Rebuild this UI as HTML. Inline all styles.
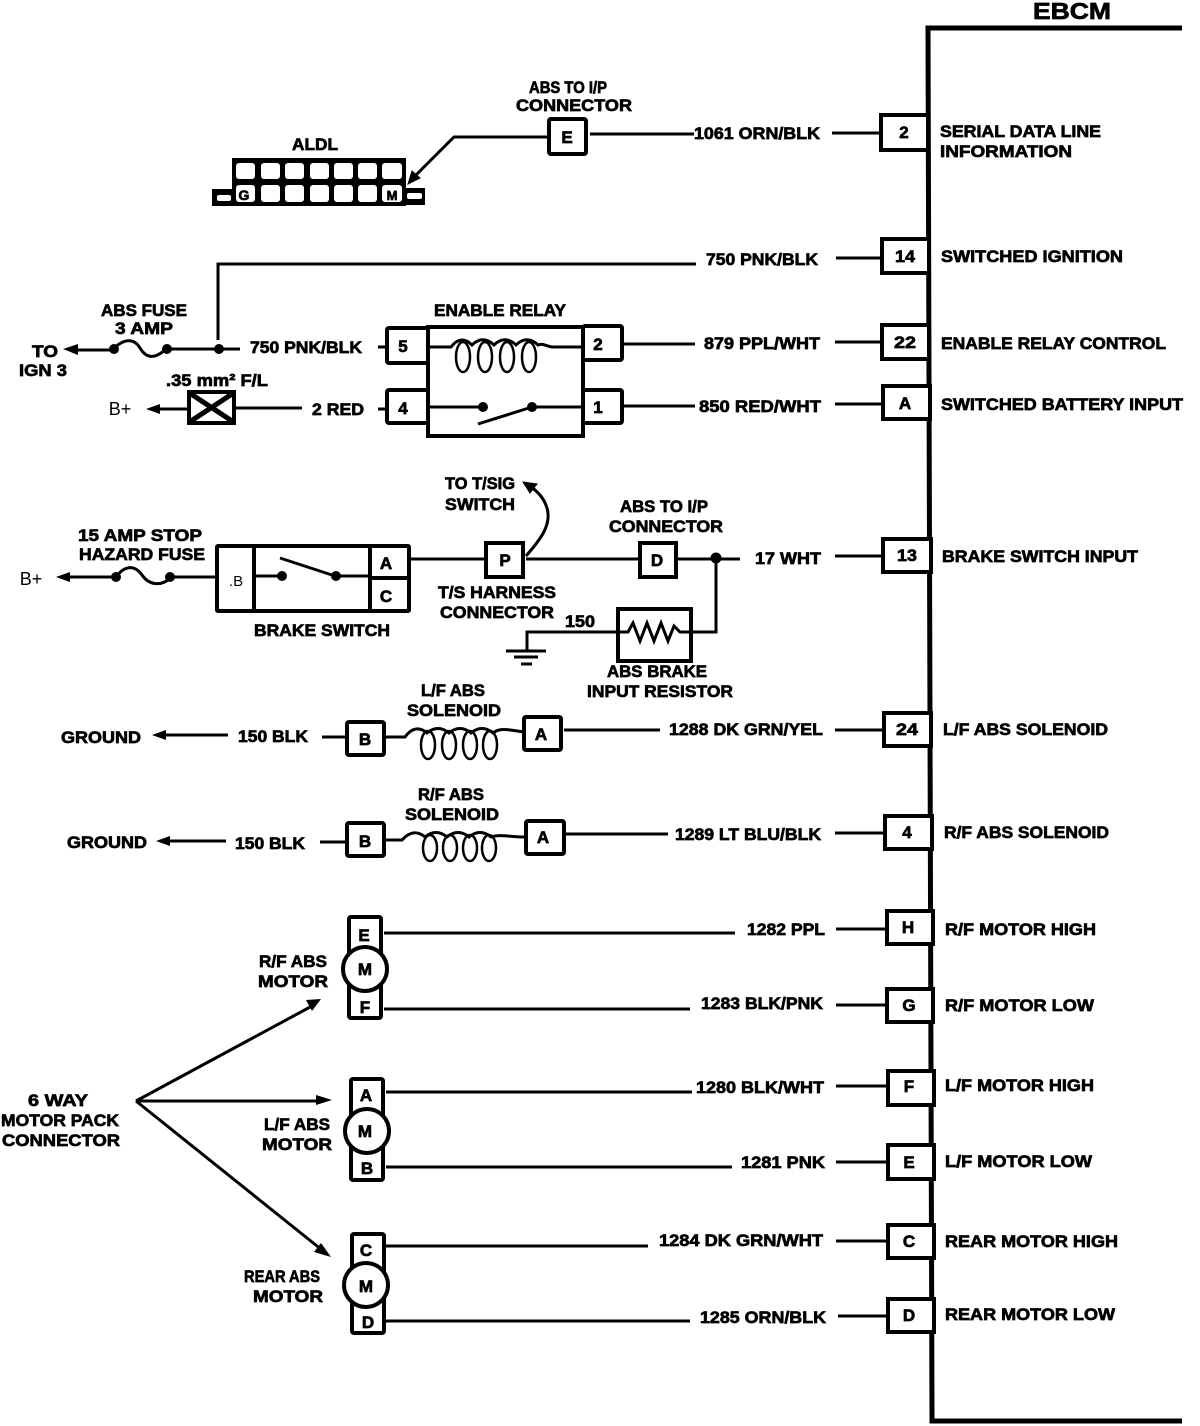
<!DOCTYPE html>
<html><head><meta charset="utf-8"><style>
html,body{margin:0;padding:0;background:#fff}
svg{display:block}
text{font-family:"Liberation Sans",sans-serif;font-weight:bold;font-size:17px;fill:#000;stroke:#000;stroke-width:.7;text-anchor:middle}
.l{text-anchor:start}
.n{stroke:none;font-weight:normal}
.w{fill:none;stroke:#000;stroke-width:3}
.b{fill:#fff;stroke:#000;stroke-width:4}
.t{fill:none;stroke:#000;stroke-width:5}
</style></head><body>
<svg width="1200" height="1426" viewBox="0 0 1200 1426" xmlns="http://www.w3.org/2000/svg">
<!-- EBCM -->
<path d="M1182 28H928L932 1421H1182" fill="none" stroke="#000" stroke-width="5"/>
<text x="1072" y="19" style="font-size:23px" textLength="78" lengthAdjust="spacingAndGlyphs">EBCM</text>

<!-- EBCM pin wires -->
<g class="w">
<path d="M590 134H694M832 133H880"/>
<path d="M218 340V264H696M836 258H881"/>
<path d="M622 344H695M835 342H881"/>
<path d="M622 406H695M835 404H882"/>
<path d="M835 556H882"/>
<path d="M564 730H660M835 730H883"/>
<path d="M566 834H668M835 833H884"/>
<path d="M384 933H735M836 929H886"/>
<path d="M384 1009H690M836 1005H886"/>
<path d="M386 1092H692M836 1086H887"/>
<path d="M386 1167H732M836 1162H887"/>
<path d="M386 1246H648M836 1241H887"/>
<path d="M386 1321H690M838 1316H887"/>
</g>
<!-- EBCM pin boxes -->
<g class="b">
<rect x="881" y="115" width="47" height="35"/>
<rect x="882" y="239" width="47" height="34"/>
<rect x="882" y="325" width="47" height="34"/>
<rect x="883" y="386" width="47" height="33"/>
<rect x="883" y="539" width="48" height="33"/>
<rect x="884" y="713" width="47" height="33"/>
<rect x="885" y="816" width="47" height="33"/>
<rect x="887" y="911" width="46" height="33"/>
<rect x="887" y="989" width="46" height="33"/>
<rect x="888" y="1071" width="46" height="34"/>
<rect x="888" y="1145" width="46" height="34"/>
<rect x="888" y="1225" width="46" height="33"/>
<rect x="888" y="1299" width="46" height="33"/>
</g>
<g>
<text x="904" y="138">2</text><text x="905" y="262" textLength="20" lengthAdjust="spacingAndGlyphs">14</text>
<text x="905" y="348" textLength="22" lengthAdjust="spacingAndGlyphs">22</text><text x="905" y="409">A</text>
<text x="907" y="561" textLength="20" lengthAdjust="spacingAndGlyphs">13</text><text x="907" y="735" textLength="22" lengthAdjust="spacingAndGlyphs">24</text>
<text x="907" y="838">4</text><text x="908" y="933">H</text><text x="909" y="1011">G</text><text x="909" y="1092">F</text>
<text x="909" y="1168">E</text><text x="909" y="1247">C</text><text x="909" y="1321">D</text>
</g>
<!-- pin labels -->
<g>
<text class="l" x="940" y="137" textLength="161" lengthAdjust="spacingAndGlyphs">SERIAL DATA LINE</text>
<text class="l" x="940" y="157" textLength="132" lengthAdjust="spacingAndGlyphs">INFORMATION</text>
<text class="l" x="941" y="262" textLength="182" lengthAdjust="spacingAndGlyphs">SWITCHED IGNITION</text>
<text class="l" x="941" y="349" textLength="225" lengthAdjust="spacingAndGlyphs">ENABLE RELAY CONTROL</text>
<text class="l" x="941" y="410" textLength="242" lengthAdjust="spacingAndGlyphs">SWITCHED BATTERY INPUT</text>
<text class="l" x="942" y="562" textLength="196" lengthAdjust="spacingAndGlyphs">BRAKE SWITCH INPUT</text>
<text class="l" x="943" y="735" textLength="165" lengthAdjust="spacingAndGlyphs">L/F ABS SOLENOID</text>
<text class="l" x="944" y="838" textLength="165" lengthAdjust="spacingAndGlyphs">R/F ABS SOLENOID</text>
<text class="l" x="945" y="935" textLength="151" lengthAdjust="spacingAndGlyphs">R/F MOTOR HIGH</text>
<text class="l" x="945" y="1011" textLength="149" lengthAdjust="spacingAndGlyphs">R/F MOTOR LOW</text>
<text class="l" x="945" y="1091" textLength="149" lengthAdjust="spacingAndGlyphs">L/F MOTOR HIGH</text>
<text class="l" x="945" y="1167" textLength="147" lengthAdjust="spacingAndGlyphs">L/F MOTOR LOW</text>
<text class="l" x="945" y="1247" textLength="173" lengthAdjust="spacingAndGlyphs">REAR MOTOR HIGH</text>
<text class="l" x="945" y="1320" textLength="170" lengthAdjust="spacingAndGlyphs">REAR MOTOR LOW</text>
</g>
<!-- wire labels -->
<g>
<text x="757" y="139" textLength="126" lengthAdjust="spacingAndGlyphs">1061 ORN/BLK</text>
<text x="762" y="265" textLength="112" lengthAdjust="spacingAndGlyphs">750 PNK/BLK</text>
<text x="762" y="349" textLength="116" lengthAdjust="spacingAndGlyphs">879 PPL/WHT</text>
<text x="760" y="412" textLength="122" lengthAdjust="spacingAndGlyphs">850 RED/WHT</text>
<text x="788" y="564" textLength="66" lengthAdjust="spacingAndGlyphs">17 WHT</text>
<text x="746" y="735" textLength="154" lengthAdjust="spacingAndGlyphs">1288 DK GRN/YEL</text>
<text x="748" y="840" textLength="146" lengthAdjust="spacingAndGlyphs">1289 LT BLU/BLK</text>
<text x="786" y="935" textLength="78" lengthAdjust="spacingAndGlyphs">1282 PPL</text>
<text x="762" y="1009" textLength="122" lengthAdjust="spacingAndGlyphs">1283 BLK/PNK</text>
<text x="760" y="1093" textLength="128" lengthAdjust="spacingAndGlyphs">1280 BLK/WHT</text>
<text x="783" y="1168" textLength="84" lengthAdjust="spacingAndGlyphs">1281 PNK</text>
<text x="741" y="1246" textLength="164" lengthAdjust="spacingAndGlyphs">1284 DK GRN/WHT</text>
<text x="763" y="1323" textLength="126" lengthAdjust="spacingAndGlyphs">1285 ORN/BLK</text>
</g>

<!-- ALDL -->
<text x="315" y="150" textLength="46" lengthAdjust="spacingAndGlyphs">ALDL</text>
<path d="M232 158H406V206H212V189H232Z" fill="#000"/>
<rect x="406" y="188" width="19" height="17" fill="#000"/>
<g fill="#fff">
<rect x="217" y="195" width="14" height="6" rx="2"/><rect x="407" y="193" width="15" height="6" rx="2"/>
<rect x="236" y="163" width="19" height="16" rx="3"/><rect x="261" y="163" width="19" height="16" rx="3"/><rect x="285" y="163" width="19" height="16" rx="3"/><rect x="310" y="163" width="19" height="16" rx="3"/><rect x="334" y="163" width="19" height="16" rx="3"/><rect x="358" y="163" width="19" height="16" rx="3"/><rect x="382" y="163" width="20" height="16" rx="3"/>
<rect x="236" y="185" width="19" height="17" rx="3"/><rect x="261" y="185" width="19" height="17" rx="3"/><rect x="285" y="185" width="19" height="17" rx="3"/><rect x="310" y="185" width="19" height="17" rx="3"/><rect x="334" y="185" width="19" height="17" rx="3"/><rect x="358" y="185" width="19" height="17" rx="3"/><rect x="382" y="185" width="20" height="17" rx="3"/>
</g>
<text x="244" y="200" style="font-size:14px">G</text><text x="392" y="200" style="font-size:13px">M</text>
<path class="w" d="M550 137H454L415 176"/>
<path d="M408 184L412 171L420 178Z" stroke="#000"/>
<rect class="b" x="549" y="119" width="37" height="35" rx="2"/>
<text x="567" y="143">E</text>
<text x="568" y="93" textLength="78" lengthAdjust="spacingAndGlyphs">ABS TO I/P</text>
<text x="574" y="111" textLength="116" lengthAdjust="spacingAndGlyphs">CONNECTOR</text>

<!-- Fuse line row -->
<text x="45" y="357" textLength="26" lengthAdjust="spacingAndGlyphs">TO</text>
<text x="43" y="376" textLength="48" lengthAdjust="spacingAndGlyphs">IGN 3</text>
<path class="w" d="M74 350H112M166 349H218M218 349H240"/>
<path d="M63 349L78 344V355Z"/>
<path d="M112 350C124 338 134 338 140 348C146 358 154 360 166 349" class="w"/>
<circle cx="114" cy="349" r="5"/><circle cx="167" cy="349" r="5"/><circle cx="219" cy="349" r="5"/>
<text x="144" y="316" textLength="86" lengthAdjust="spacingAndGlyphs">ABS FUSE</text>
<text x="144" y="334" textLength="58" lengthAdjust="spacingAndGlyphs">3 AMP</text>
<text x="306" y="353" textLength="112" lengthAdjust="spacingAndGlyphs">750 PNK/BLK</text>
<path class="w" d="M378 347H388M378 409H388M234 408H302"/>
<text x="217" y="386" textLength="102" lengthAdjust="spacingAndGlyphs">.35 mm² F/L</text>
<text class="n" x="120" y="415" style="font-size:18px">B+</text>
<path class="w" d="M152 409H189"/>
<path d="M146 409L160 404V414Z"/>
<rect class="b" x="189" y="392" width="45" height="31"/>
<path d="M191 394L232 421M232 394L191 421" stroke="#000" stroke-width="5"/>
<text x="338" y="415" textLength="52" lengthAdjust="spacingAndGlyphs">2 RED</text>

<!-- Relay -->
<text x="500" y="316" textLength="132" lengthAdjust="spacingAndGlyphs">ENABLE RELAY</text>
<rect class="b" x="428" y="327" width="155" height="109"/>
<rect class="b" x="387" y="328" width="41" height="35" rx="2"/>
<rect class="b" x="387" y="390" width="41" height="33" rx="2"/>
<rect class="b" x="583" y="326" width="39" height="34" rx="2"/>
<rect class="b" x="583" y="390" width="39" height="33" rx="2"/>
<text x="403" y="352">5</text><text x="403" y="414">4</text><text x="598" y="350">2</text><text x="598" y="413">1</text>
<path class="w" d="M430 347H451C458 338 465 338 472 345 479 338 487 338 494 345 501 338 509 338 516 345 523 338 531 338 538 345 542 343 546 346 552 347H581"/>
<g fill="none" stroke="#000" stroke-width="2.5"><ellipse cx="463" cy="357" rx="7" ry="15"/><ellipse cx="485" cy="357" rx="7" ry="15"/><ellipse cx="507" cy="357" rx="7" ry="15"/><ellipse cx="529" cy="357" rx="7" ry="15"/></g>
<path class="w" d="M430 407H483M532 407H581M478 424L532 407"/>
<circle cx="483" cy="407" r="5"/><circle cx="532" cy="407" r="5"/>

<!-- Brake switch row -->
<text x="140" y="541" textLength="124" lengthAdjust="spacingAndGlyphs">15 AMP STOP</text>
<text x="142" y="560" textLength="126" lengthAdjust="spacingAndGlyphs">HAZARD FUSE</text>
<text class="n" x="31" y="585" style="font-size:18px">B+</text>
<path class="w" d="M66 577H114M172 577H216"/>
<path d="M56 577L70 572V582Z"/>
<path class="w" d="M116 577C124 566 134 564 142 575 148 584 160 588 172 577"/>
<circle cx="116" cy="577" r="5"/><circle cx="170" cy="577" r="5"/>
<rect class="b" x="217" y="546" width="192" height="65" rx="1"/>
<path class="t" style="stroke-width:4" d="M254 546V611M370 546V611M370 578H409"/>
<text x="236" y="586" style="font-size:15px" class="n">.B</text>
<text x="386" y="569">A</text><text x="386" y="602">C</text>
<path class="w" d="M254 576H282M336 576H370M280 558L335 576"/>
<circle cx="282" cy="576" r="5"/><circle cx="336" cy="576" r="5"/>
<text x="322" y="636" textLength="136" lengthAdjust="spacingAndGlyphs">BRAKE SWITCH</text>
<path class="w" d="M409 559H486M526 559H640M676 559H740"/>
<rect class="b" x="486" y="543" width="37" height="34"/>
<rect class="b" x="640" y="543" width="36" height="34"/>
<text x="505" y="566">P</text><text x="657" y="566">D</text>
<path class="w" d="M526 556C540 540 552 525 547 508 544 498 538 492 530 486"/>
<path d="M523 482L537 484L530 493Z" stroke="#000"/>
<text x="480" y="489" textLength="70" lengthAdjust="spacingAndGlyphs">TO T/SIG</text>
<text x="480" y="510" textLength="70" lengthAdjust="spacingAndGlyphs">SWITCH</text>
<text x="664" y="512" textLength="88" lengthAdjust="spacingAndGlyphs">ABS TO I/P</text>
<text x="666" y="532" textLength="114" lengthAdjust="spacingAndGlyphs">CONNECTOR</text>
<text x="497" y="598" textLength="118" lengthAdjust="spacingAndGlyphs">T/S HARNESS</text>
<text x="497" y="618" textLength="114" lengthAdjust="spacingAndGlyphs">CONNECTOR</text>
<circle cx="716" cy="558" r="5.5"/>
<path class="w" d="M716 558V632H692M618 632H527V650"/>
<path d="M506 651H546M514 657H538M521 664H532" stroke="#000" stroke-width="3"/>
<text x="580" y="627" textLength="30" lengthAdjust="spacingAndGlyphs">150</text>
<rect class="b" x="618" y="609" width="73" height="52"/>
<path class="w" d="M618 632H628L633 623 640 641 647 623 654 641 661 623 668 641 674 626 680 632H691"/>
<text x="657" y="677" textLength="100" lengthAdjust="spacingAndGlyphs">ABS BRAKE</text>
<text x="660" y="697" textLength="146" lengthAdjust="spacingAndGlyphs">INPUT RESISTOR</text>

<!-- L/F solenoid -->
<text x="101" y="743" textLength="80" lengthAdjust="spacingAndGlyphs">GROUND</text>
<path class="w" d="M160 735H228"/><path d="M152 735L166 730V740Z"/>
<text x="273" y="742" textLength="70" lengthAdjust="spacingAndGlyphs">150 BLK</text>
<path class="w" d="M322 737H346"/>
<rect class="b" x="347" y="722" width="37" height="33" rx="2"/><text x="365" y="745">B</text>
<rect class="b" x="524" y="717" width="37" height="33" rx="2"/><text x="541" y="740">A</text>
<path class="w" d="M384 737H405C412 727 420 727 427 733 434 727 442 727 449 733 456 727 464 727 471 733 478 727 486 727 493 733 500 727 510 730 524 732"/>
<g fill="none" stroke="#000" stroke-width="2.5"><ellipse cx="428" cy="745" rx="7" ry="14"/><ellipse cx="449" cy="745" rx="7" ry="14"/><ellipse cx="470" cy="745" rx="7" ry="14"/><ellipse cx="490" cy="745" rx="7" ry="14"/></g>
<text x="453" y="696" textLength="64" lengthAdjust="spacingAndGlyphs">L/F ABS</text>
<text x="454" y="716" textLength="94" lengthAdjust="spacingAndGlyphs">SOLENOID</text>

<!-- R/F solenoid -->
<text x="107" y="848" textLength="80" lengthAdjust="spacingAndGlyphs">GROUND</text>
<path class="w" d="M165 841H226"/><path d="M156 841L170 836V846Z"/>
<text x="270" y="849" textLength="70" lengthAdjust="spacingAndGlyphs">150 BLK</text>
<path class="w" d="M320 842H346"/>
<rect class="b" x="347" y="823" width="37" height="33" rx="2"/><text x="365" y="847">B</text>
<rect class="b" x="526" y="821" width="38" height="33" rx="2"/><text x="543" y="843">A</text>
<path class="w" d="M384 840H402C410 831 418 831 425 837 432 831 440 831 447 837 454 831 462 831 469 837 476 831 484 831 491 837 500 834 510 837 526 837"/>
<g fill="none" stroke="#000" stroke-width="2.5"><ellipse cx="430" cy="848" rx="7" ry="13"/><ellipse cx="450" cy="848" rx="7" ry="13"/><ellipse cx="470" cy="848" rx="7" ry="13"/><ellipse cx="489" cy="848" rx="7" ry="13"/></g>
<text x="451" y="800" textLength="66" lengthAdjust="spacingAndGlyphs">R/F ABS</text>
<text x="452" y="820" textLength="94" lengthAdjust="spacingAndGlyphs">SOLENOID</text>

<!-- Motors -->
<g>
<rect class="b" x="349" y="917" width="32" height="101" rx="2"/>
<circle cx="365" cy="969" r="22" fill="#fff" stroke="#000" stroke-width="4"/>
<text x="364" y="941">E</text><text x="365" y="975">M</text><text x="365" y="1013">F</text>
<rect class="b" x="351" y="1079" width="32" height="101" rx="2"/>
<circle cx="367" cy="1131" r="22" fill="#fff" stroke="#000" stroke-width="4"/>
<text x="366" y="1101">A</text><text x="365" y="1137">M</text><text x="367" y="1174">B</text>
<rect class="b" x="352" y="1234" width="32" height="99" rx="2"/>
<circle cx="366" cy="1285" r="22" fill="#fff" stroke="#000" stroke-width="4"/>
<text x="366" y="1256">C</text><text x="366" y="1292">M</text><text x="368" y="1328">D</text>
</g>
<text x="293" y="967" textLength="68" lengthAdjust="spacingAndGlyphs">R/F ABS</text>
<text x="293" y="987" textLength="70" lengthAdjust="spacingAndGlyphs">MOTOR</text>
<text x="297" y="1130" textLength="66" lengthAdjust="spacingAndGlyphs">L/F ABS</text>
<text x="297" y="1150" textLength="70" lengthAdjust="spacingAndGlyphs">MOTOR</text>
<text x="282" y="1282" textLength="76" lengthAdjust="spacingAndGlyphs">REAR ABS</text>
<text x="288" y="1302" textLength="70" lengthAdjust="spacingAndGlyphs">MOTOR</text>
<path class="w" d="M136 1101L312 1006M136 1101H320M136 1101L322 1250"/>
<path d="M321 999L306 1000 312 1011Z"/>
<path d="M332 1100L316 1095V1105Z"/>
<path d="M331 1257L321 1243 314 1252Z"/>
<text x="58" y="1106" textLength="60" lengthAdjust="spacingAndGlyphs">6 WAY</text>
<text x="60" y="1126" textLength="118" lengthAdjust="spacingAndGlyphs">MOTOR PACK</text>
<text x="61" y="1146" textLength="118" lengthAdjust="spacingAndGlyphs">CONNECTOR</text>
</svg>
</body></html>
